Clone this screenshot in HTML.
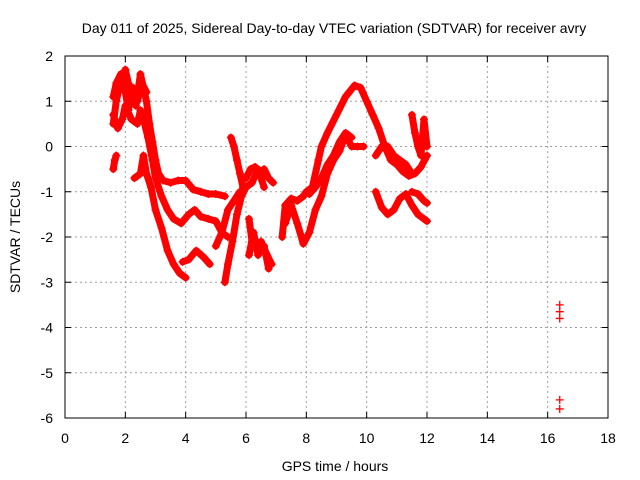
<!DOCTYPE html>
<html><head><meta charset="utf-8"><style>
body{margin:0;background:#fff}
svg{display:block;font-family:"Liberation Sans",sans-serif}
</style></head><body>
<svg id="chart" width="640" height="480">
<text x="334" y="33" font-size="14" text-anchor="middle">Day 011 of 2025, Sidereal Day-to-day VTEC variation (SDTVAR) for receiver avry</text>
<text x="335" y="471" font-size="14" text-anchor="middle">GPS time / hours</text>
<text transform="translate(20,237) rotate(-90)" font-size="14" text-anchor="middle">SDTVAR / TECUs</text>
<g id="grid"></g><g id="ticks"></g><g id="marks"></g>
<rect x="65" y="56" width="543" height="362" fill="none" stroke="#000" stroke-width="1"/>
</svg>
<script>
const xTicks=[0,2,4,6,8,10,12,14,16,18];
const yTicks=[2,1,0,-1,-2,-3,-4,-5,-6];
const s1=[[1.6,0.5],[1.7,1.0],[1.8,1.3],[1.9,1.5],[2.0,1.7],[2.1,1.4],[2.2,1.1],[2.35,0.9],[2.5,1.6],[2.6,1.3],[2.7,1.0],[2.8,0.5],[2.9,0.1],[3.0,-0.3],[3.1,-0.6],[3.25,-0.75],[3.5,-0.8],[3.75,-0.75],[4.0,-0.75],[4.25,-0.95],[4.5,-1.0],[4.75,-1.05],[5.0,-1.05],[5.3,-1.1]];
const s2=[[1.6,0.7],[1.75,0.4],[1.9,0.6],[2.0,0.9],[2.2,0.6],[2.4,0.5],[2.5,0.8],[2.6,0.6],[2.75,0.2],[2.9,-0.3],[3.0,-0.7],[3.2,-1.1],[3.4,-1.4],[3.6,-1.6],[3.85,-1.7],[4.1,-1.5],[4.3,-1.4],[4.5,-1.55],[4.75,-1.6],[5.0,-1.65],[5.2,-1.9],[5.4,-2.0]];
const s3=[[2.3,-0.7],[2.5,-0.6],[2.6,-0.2],[2.7,-0.6],[2.85,-0.9],[3.0,-1.4],[3.2,-1.8],[3.4,-2.3],[3.6,-2.6],[3.8,-2.8],[4.0,-2.9]];
const s3b=[[3.9,-2.55],[4.1,-2.5],[4.35,-2.3],[4.6,-2.45],[4.8,-2.6]];
const s1b=[[1.6,-0.5],[1.65,-0.3],[1.7,-0.2]];
const s4=[[5.3,-3.0],[5.4,-2.6],[5.55,-2.1],[5.7,-1.5],[5.85,-1.1],[6.0,-0.9]];
const s4b=[[5.0,-2.2],[5.2,-1.9],[5.4,-1.4],[5.6,-1.2],[5.8,-1.0]];
const s5=[[5.5,0.2],[5.6,0.0],[5.7,-0.3],[5.8,-0.6],[5.9,-0.9]];
const s6=[[6.0,-0.7],[6.15,-0.5],[6.3,-0.45],[6.45,-0.6],[6.6,-0.5],[6.75,-0.7],[6.9,-0.8]];
const s7=[[6.1,-1.6],[6.2,-2.1],[6.35,-2.2],[6.5,-2.1],[6.7,-2.4],[6.85,-2.6]];
const s8=[[7.2,-2.0],[7.3,-1.3],[7.5,-1.15],[7.7,-1.2],[7.9,-1.1],[8.0,-1.0],[8.2,-0.9],[8.4,-0.3],[8.5,0.0],[8.7,0.3],[9.0,0.7],[9.3,1.1],[9.6,1.35],[9.8,1.3],[10.0,1.0],[10.2,0.7],[10.4,0.4],[10.6,0.0],[10.8,-0.3],[11.0,-0.4],[11.2,-0.55],[11.4,-0.65],[11.6,-0.6],[11.8,-0.45],[12.0,-0.2]];
const s9=[[7.3,-1.7],[7.5,-1.3],[7.7,-1.7],[7.9,-2.15],[8.1,-1.9],[8.3,-1.4],[8.5,-1.1],[8.7,-0.6],[8.9,-0.3],[9.1,-0.1],[9.3,0.25],[9.5,0.0],[9.7,0.0],[9.9,0.0]];
const s10=[[8.1,-1.05],[8.3,-0.9],[8.5,-0.7],[8.7,-0.4],[8.9,-0.2],[9.1,0.1],[9.3,0.3],[9.5,0.2]];
const s11=[[10.3,-0.2],[10.5,0.0],[10.7,0.0],[10.9,-0.2],[11.1,-0.3],[11.3,-0.4],[11.5,-0.6]];
const s12=[[10.3,-1.0],[10.5,-1.35],[10.7,-1.5],[10.9,-1.4],[11.1,-1.15],[11.3,-1.05],[11.5,-1.3],[11.7,-1.5],[11.9,-1.6],[12.0,-1.65]];
const s13=[[11.5,-1.0],[11.7,-1.05],[11.9,-1.2],[12.0,-1.25]];
const s14=[[11.5,0.7],[11.6,0.3],[11.7,0.0],[11.8,-0.2],[11.9,0.6],[12.0,0.0]];
const s17=[[1.6,1.1],[1.7,1.4],[1.85,1.6],[2.0,1.2],[2.1,0.8],[2.25,1.3],[2.4,1.0],[2.55,1.4],[2.7,1.2]];
const s18=[[6.1,-2.4],[6.25,-1.9],[6.4,-2.4],[6.6,-2.2],[6.75,-2.7]];
const s19=[[6.0,-0.9],[6.2,-0.8],[6.4,-0.5],[6.6,-0.9]];
const s15=[[16.4,-3.5],[16.4,-3.65],[16.4,-3.8]];
const s16=[[16.4,-5.6],[16.4,-5.8]];
const lineSeries=[s1,s2,s3,s3b,s1b,s4,s4b,s5,s6,s7,s8,s9,s10,s11,s12,s13,s14,s17,s18,s19];
const pointSeries=[s15,s16];

const NS='http://www.w3.org/2000/svg';
const X=t=>65+(t-0)/18*543;
const Y=v=>56+(2-v)/8*362;
function mk(tag,attrs,parent){const e=document.createElementNS(NS,tag);for(const k in attrs)e.setAttribute(k,attrs[k]);parent.appendChild(e);return e;}
const grid=document.getElementById('grid'),ticks=document.getElementById('ticks'),marks=document.getElementById('marks');
xTicks.forEach(t=>{
  const x=X(t);
  if(t>0&&t<18){const g=mk('line',{x1:x,x2:x,y1:56,y2:418,stroke:'#a0a0a0','stroke-dasharray':'2,3'},grid);
  
  }
  mk('line',{x1:x,x2:x,y1:418,y2:412,stroke:'#000'},ticks);
  mk('line',{x1:x,x2:x,y1:56,y2:62,stroke:'#000'},ticks);
  const l=mk('text',{x:x,y:443,'font-size':14,'text-anchor':'middle'},ticks);l.textContent=t;
  
  
});
yTicks.forEach(v=>{
  const y=Y(v);
  if(v<2&&v>-6){const g=mk('line',{x1:65,x2:608,y1:y,y2:y,stroke:'#a0a0a0','stroke-dasharray':'2,3'},grid);
  
  }
  mk('line',{x1:65,x2:71,y1:y,y2:y,stroke:'#000'},ticks);
  mk('line',{x1:608,x2:602,y1:y,y2:y,stroke:'#000'},ticks);
  const l=mk('text',{x:53,y:y+5,'font-size':14,'text-anchor':'end'},ticks);l.textContent=v;
  
  
});
function plus(t,v){
  const x=X(t),y=Y(v);
  const p=mk('path',{d:`M${x-4},${y}h8M${x},${y-4}v8`,stroke:'#f00','stroke-width':1.3},marks);
  
  
}
lineSeries.forEach(s=>{
  const pl=mk('polyline',{points:s.map(p=>X(p[0])+','+Y(p[1])).join(' '),fill:'none',stroke:'#f00','stroke-width':7,'stroke-linejoin':'round','stroke-linecap':'round'},marks);
  
  
  s.forEach(p=>plus(p[0],p[1]));
});
pointSeries.forEach(s=>s.forEach(p=>plus(p[0],p[1])));
</script>
</body></html>
